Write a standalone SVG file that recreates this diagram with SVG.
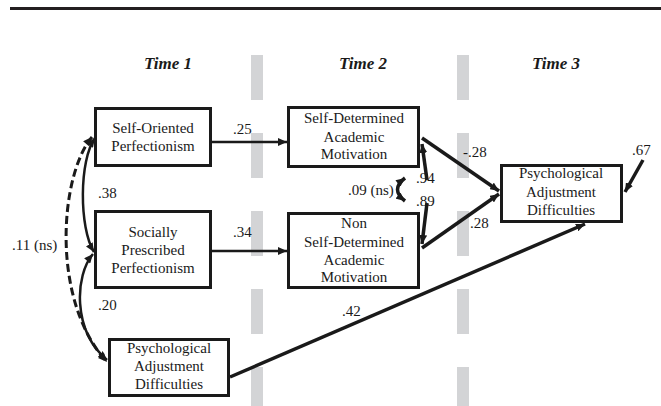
<svg xmlns="http://www.w3.org/2000/svg" width="661" height="406" viewBox="0 0 661 406" font-family="'Liberation Serif', 'Times New Roman', serif">
<style>
.box{fill:#fff;stroke:#1a1a1a;stroke-width:3}
.t{font-family:'Liberation Serif','Times New Roman',serif;font-size:15px;fill:#1a1a1a;text-anchor:middle}
.lab{font-family:'Liberation Serif','Times New Roman',serif;font-size:15px;fill:#1a1a1a}
.time{font-family:'Liberation Serif','Times New Roman',serif;font-size:17px;font-weight:bold;font-style:italic;fill:#1a1a1a;text-anchor:middle}
.bar{stroke:#d3d4d6;stroke-width:12;stroke-dasharray:45 33;fill:none}
.c{stroke:#1a1a1a;fill:none}
</style>
<defs>
<marker id="ah" markerUnits="userSpaceOnUse" markerWidth="10" markerHeight="8" refX="9" refY="4" orient="auto">
<path d="M0,0 L9,4 L0,8 z" fill="#1a1a1a"/>
</marker>
<marker id="as" markerUnits="userSpaceOnUse" markerWidth="10" markerHeight="8" refX="0" refY="4" orient="auto">
<path d="M9,0 L0,4 L9,8 z" fill="#1a1a1a"/>
</marker>
</defs>
<rect width="661" height="406" fill="#fff"/>
<line x1="10" y1="8.5" x2="661" y2="8.5" stroke="#231f20" stroke-width="3"/>
<g id="bars">
<line class="bar" x1="257" y1="55" x2="257" y2="406"/>
<line class="bar" x1="463" y1="55" x2="463" y2="406"/>
</g>
<g id="headers">
<text class="time" x="168" y="69">Time 1</text>
<text class="time" x="363" y="69">Time 2</text>
<text class="time" x="556" y="69">Time 3</text>
</g>
<g id="connectors">
<line class="c" stroke-width="2.5" x1="212" y1="142" x2="287" y2="142" marker-end="url(#ah)"/>
<line class="c" stroke-width="2.5" x1="212" y1="251" x2="287" y2="251" marker-end="url(#ah)"/>
<line class="c" stroke-width="3.5" x1="422" y1="138" x2="499" y2="191" marker-end="url(#ah)"/>
<line class="c" stroke-width="3.5" x1="422" y1="248" x2="499" y2="194" marker-end="url(#ah)"/>
<line class="c" stroke-width="3.5" x1="230" y1="377" x2="585" y2="224" marker-end="url(#ah)"/>
<line class="c" stroke-width="3.5" x1="643" y1="160" x2="625" y2="192" marker-end="url(#ah)"/>
<line class="c" stroke-width="3.5" x1="427" y1="180" x2="422" y2="144" marker-end="url(#ah)"/>
<line class="c" stroke-width="3.5" x1="427" y1="203" x2="422" y2="244" marker-end="url(#ah)"/>
<path class="c" stroke-width="3.5" d="M405,178 Q390,189.5 405,201" marker-start="url(#as)" marker-end="url(#ah)"/>
<path class="c" stroke-width="2.5" d="M95,138 C79,160 79,228 94,252" marker-start="url(#as)" marker-end="url(#ah)"/>
<path class="c" stroke-width="2.5" d="M93,254 C75,275 72,330 107,360" marker-start="url(#as)" marker-end="url(#ah)"/>
<path class="c" stroke-width="3" stroke-dasharray="8 4" d="M92,137 C60,175 50,300 107,362" marker-start="url(#as)" marker-end="url(#ah)"/>
</g>
<g id="labels">
<text class="lab" x="233" y="134">.25</text>
<text class="lab" x="233" y="237">.34</text>
<text class="lab" x="98" y="198">.38</text>
<text class="lab" x="12" y="250">.11 (ns)</text>
<text class="lab" x="98" y="310">.20</text>
<text class="lab" x="342" y="316">.42</text>
<text class="lab" x="463" y="157">-.28</text>
<text class="lab" x="470" y="228">.28</text>
<text class="lab" x="632" y="155">.67</text>
<text class="lab" x="416" y="183">.94</text>
<text class="lab" x="416" y="206">.89</text>
<text class="lab" x="348" y="195">.09 (ns)</text>
</g>
<g id="n-so">
<rect class="box" x="95.5" y="108.5" width="115" height="57"/>
<text class="t" x="153" y="133">Self-Oriented</text>
<text class="t" x="153" y="151">Perfectionism</text>
</g>
<g id="n-sp">
<rect class="box" x="95.5" y="211.5" width="115" height="76"/>
<text class="t" x="153" y="237">Socially</text>
<text class="t" x="153" y="255">Prescribed</text>
<text class="t" x="153" y="273">Perfectionism</text>
</g>
<g id="n-pad1">
<rect class="box" x="109.5" y="339.5" width="119" height="56"/>
<text class="t" x="169" y="353">Psychological</text>
<text class="t" x="169" y="371">Adjustment</text>
<text class="t" x="169" y="389">Difficulties</text>
</g>
<g id="n-sd">
<rect class="box" x="288.5" y="107.5" width="130" height="59"/>
<text class="t" x="354" y="123">Self-Determined</text>
<text class="t" x="354" y="142">Academic</text>
<text class="t" x="354" y="159">Motivation</text>
</g>
<g id="n-nsd">
<rect class="box" x="288.5" y="213.5" width="130" height="74"/>
<text class="t" x="354" y="228">Non</text>
<text class="t" x="354" y="247">Self-Determined</text>
<text class="t" x="354" y="265">Academic</text>
<text class="t" x="354" y="282">Motivation</text>
</g>
<g id="n-pad3">
<rect class="box" x="501.5" y="165.5" width="120" height="56"/>
<text class="t" x="561" y="178">Psychological</text>
<text class="t" x="561" y="197">Adjustment</text>
<text class="t" x="561" y="215">Difficulties</text>
</g>
</svg>
